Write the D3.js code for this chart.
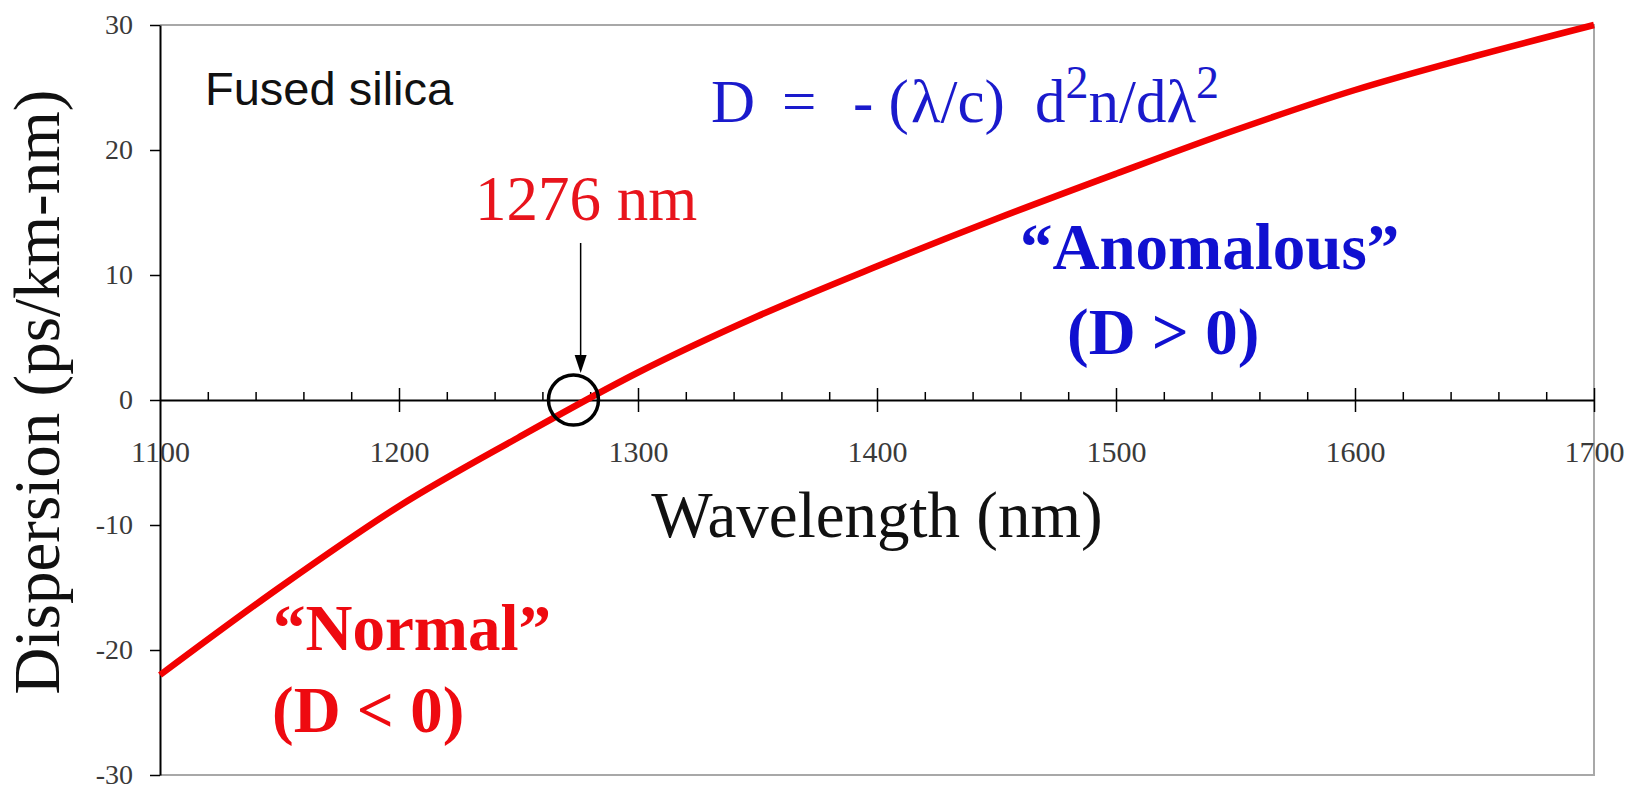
<!DOCTYPE html>
<html>
<head>
<meta charset="utf-8">
<script src="https://cdn.jsdelivr.net/npm/d3@7"></script>
<style>
  body { margin: 0; background: #fff; }
  svg { display: block; }
</style>
</head>
<body>
<svg width="1642" height="786"></svg>
<script>
// dispersion of fused silica
var wavelengths = [1100, 1150, 1200, 1250, 1300, 1350, 1400, 1450, 1500, 1550, 1600, 1650, 1700];
var dispersion  = [-22.0, -15.0, -8.5, -3.0, 2.2, 6.7, 10.7, 14.5, 18.1, 21.6, 24.8, 27.5, 30.0];

var xTicks = [1100, 1200, 1300, 1400, 1500, 1600, 1700];
var xMinorTicks = d3.range(1120, 1700, 20).filter(function(d) { return d % 100 != 0; });
var yTicks = [-30, -20, -10, 0, 10, 20, 30];
var zeroCrossing = 1276;

var svg = d3.select("svg"),
    margin = { top: 25, right: 48, bottom: 11, left: 160 },
    width = +svg.attr("width"),
    height = +svg.attr("height");

var x = d3.scaleLinear()
    .domain([1100, 1700])
    .range([margin.left, width - margin.right]);

var y = d3.scaleLinear()
    .domain([-30, 30])
    .range([height - margin.bottom, margin.top]);

var serif = "'Liberation Serif', 'Times New Roman', serif";
var plain = function(d) { return String(d); };

// grey frame (top, right, bottom)
svg.append("path")
    .attr("d", "M" + x(1100) + "," + y(30) + "H" + x(1700) + "V" + y(-30) + "H" + x(1100))
    .attr("fill", "none")
    .attr("stroke", "#a8a8a8")
    .attr("stroke-width", 2);

// y axis
var yAxis = svg.append("g")
    .attr("class", "y axis")
    .attr("transform", "translate(" + x(1100) + ",0)")
    .call(d3.axisLeft(y).tickValues(yTicks).tickFormat(plain).tickSize(10).tickPadding(17).tickSizeOuter(0));
yAxis.select(".domain").attr("stroke", "#000").attr("stroke-width", 2);
yAxis.selectAll("line").attr("stroke", "#000").attr("stroke-width", 1.5);
yAxis.selectAll("text")
    .attr("font-family", serif)
    .attr("font-size", 28)
    .attr("fill", "#3a3a3a");

// x axis sits on D = 0, major ticks cross it
var xAxis = svg.append("g")
    .attr("class", "x axis")
    .attr("transform", "translate(0," + y(0) + ")")
    .call(d3.axisBottom(x).tickValues(xTicks).tickFormat(plain).tickSize(12).tickSizeOuter(0));
xAxis.select(".domain").attr("stroke", "#000").attr("stroke-width", 2);
xAxis.selectAll(".tick line")
    .attr("y1", -12)
    .attr("stroke", "#000")
    .attr("stroke-width", 1.5);
xAxis.selectAll(".tick").filter(function(d) { return d == 1100; }).select("line").remove();
xAxis.selectAll("text")
    .attr("y", 62)
    .attr("dy", 0)
    .attr("font-family", serif)
    .attr("font-size", 30)
    .attr("fill", "#3a3a3a");

var xMinor = svg.append("g")
    .attr("transform", "translate(0," + y(0) + ")")
    .call(d3.axisTop(x).tickValues(xMinorTicks).tickSize(8).tickFormat(""));
xMinor.select(".domain").remove();
xMinor.selectAll("line").attr("stroke", "#000").attr("stroke-width", 1.5);

// curve
var line = d3.line()
    .x(function(d, i) { return x(wavelengths[i]); })
    .y(function(d) { return y(d); })
    .curve(d3.curveMonotoneX);

svg.append("path")
    .datum(dispersion)
    .attr("d", line)
    .attr("fill", "none")
    .attr("stroke", "#f20000")
    .attr("stroke-width", 6.5);

// axis titles
svg.append("text")
    .attr("x", (x(1100) + x(1700)) / 2)
    .attr("y", 537)
    .attr("text-anchor", "middle")
    .attr("font-family", serif)
    .attr("font-size", 65)
    .attr("fill", "#111")
    .text("Wavelength (nm)");

svg.append("text")
    .attr("transform", "translate(59,392) rotate(-90)")
    .attr("text-anchor", "middle")
    .attr("font-family", serif)
    .attr("font-size", 65)
    .attr("fill", "#111")
    .text("Dispersion (ps/km-nm)");

// annotations
svg.append("text")
    .attr("x", 205)
    .attr("y", 105)
    .attr("font-family", "'Liberation Sans', Arial, sans-serif")
    .attr("font-size", 47)
    .attr("fill", "#111")
    .text("Fused silica");

var eq = svg.append("text")
    .attr("y", 122)
    .attr("font-family", serif)
    .attr("font-size", 61)
    .attr("fill", "#1a1acc");
eq.append("tspan").attr("x", 711).text("D");
eq.append("tspan").attr("x", 782).text("=");
eq.append("tspan").attr("x", 853).text("- (");
eq.append("tspan").attr("x", 911).text("λ/c)");
eq.append("tspan").attr("x", 1035).text("d");
eq.append("tspan").attr("dy", -24).attr("font-size", 46).text("2");
eq.append("tspan").attr("dy", 24).text("n/dλ");
eq.append("tspan").attr("dy", -24).attr("font-size", 46).text("2");

svg.append("text")
    .attr("x", 475)
    .attr("y", 220)
    .attr("font-family", serif)
    .attr("font-size", 63)
    .attr("fill", "#e8141c")
    .text(zeroCrossing + " nm");

// arrow and circle at the zero crossing
svg.append("line")
    .attr("x1", x(zeroCrossing)).attr("y1", 243)
    .attr("x2", x(zeroCrossing)).attr("y2", y(0) - 35)
    .attr("stroke", "#000")
    .attr("stroke-width", 1.5);
svg.append("path")
    .attr("d", "M" + (x(zeroCrossing) - 6) + "," + (y(0) - 45) + "L" + x(zeroCrossing) + "," + (y(0) - 27) + "L" + (x(zeroCrossing) + 6) + "," + (y(0) - 45) + "Z")
    .attr("fill", "#000");

svg.append("circle")
    .attr("cx", x(1273))
    .attr("cy", y(0))
    .attr("r", 25)
    .attr("fill", "none")
    .attr("stroke", "#000")
    .attr("stroke-width", 3.5);

var bold = function(sel) {
    return sel.attr("font-family", serif).attr("font-size", 65).attr("font-weight", "bold");
};

bold(svg.append("text")).attr("x", 1020).attr("y", 269).attr("fill", "#1010d0").text("“Anomalous”");
bold(svg.append("text")).attr("x", 1067).attr("y", 354).attr("fill", "#1010d0").text("(D > 0)");
bold(svg.append("text")).attr("x", 273).attr("y", 650).attr("fill", "#ee0a10").text("“Normal”");
bold(svg.append("text")).attr("x", 272).attr("y", 732).attr("fill", "#ee0a10").text("(D < 0)");
</script>
</body>
</html>
